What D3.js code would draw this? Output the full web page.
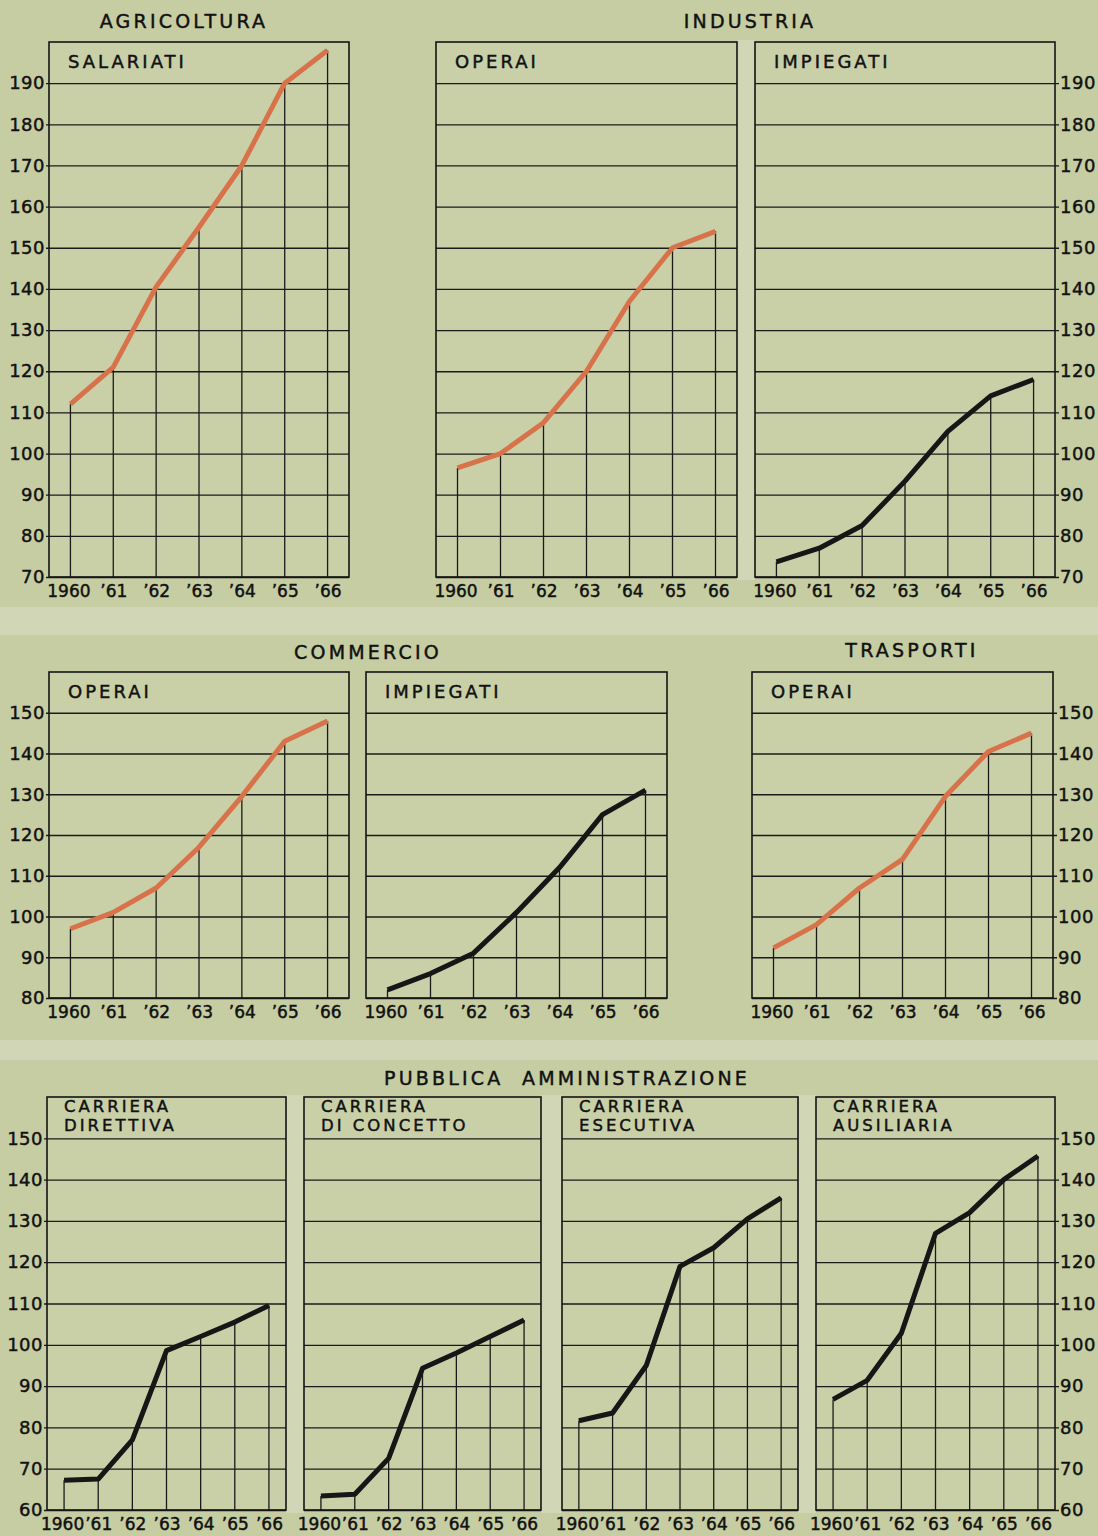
<!DOCTYPE html>
<html>
<head>
<meta charset="utf-8">
<script src="https://cdn.jsdelivr.net/npm/d3@7"></script>
<style>
  body { margin: 0; background: #c6cda2; }
  svg { display: block; font-family: "DejaVu Sans", sans-serif; }
  svg text { stroke: #111; stroke-width: 0.45px; paint-order: stroke; }
</style>
</head>
<body>
<div id="chart"></div>
<script>
// years on the x axis
var years = [1960, 1961, 1962, 1963, 1964, 1965, 1966];
var yearLabels = ["1960", "\u201961", "\u201962", "\u201963", "\u201964", "\u201965", "\u201966"];

// y tick labels for each row
var ticksRow1 = [70, 80, 90, 100, 110, 120, 130, 140, 150, 160, 170, 180, 190];
var ticksRow2 = [80, 90, 100, 110, 120, 130, 140, 150];
var ticksRow3 = [60, 70, 80, 90, 100, 110, 120, 130, 140, 150];

// series (index numbers)
var agricolturaSalariati = [112, 121, 140.5, 155, 170, 190, 198];
var industriaOperai = [96.5, 100, 107.5, 120, 137, 150, 154];
var industriaImpiegati = [73.7, 77, 82.5, 93.3, 105.4, 114, 118];
var commercioOperai = [97, 101, 107, 117, 129.5, 143, 148];
var commercioImpiegati = [82, 86, 91, 101, 112, 125, 131];
var trasportiOperai = [92.3, 98, 107, 114, 129.5, 140.5, 145];
var paDirettiva = [67.2, 67.5, 77, 98.6, 102, 105.5, 109.5];
var paConcetto = [63.4, 63.8, 72.5, 94.3, 98, 102, 106];
var paEsecutiva = [81.6, 83.5, 95, 119, 123.5, 130.5, 135.6];
var paAusiliaria = [86.8, 91.4, 102.8, 127, 132, 140, 145.7];

var ORANGE = "#d8724b", BLACK = "#161616";

var rows = [
  { top: 42, bottom: 577, domain: [70, 200], ticks: ticksRow1, sub: 1 },
  { top: 672, bottom: 998, domain: [80, 160], ticks: ticksRow2, sub: 1 },
  { top: 1097, bottom: 1510, domain: [60, 160], ticks: ticksRow3, sub: 2 }
];

var panels = [
  { row: 0, x0: 49, x1: 349, title: ["SALARIATI"], values: agricolturaSalariati, color: ORANGE, axis: "left" },
  { row: 0, x0: 436, x1: 737, title: ["OPERAI"], values: industriaOperai, color: ORANGE },
  { row: 0, x0: 755, x1: 1055, title: ["IMPIEGATI"], values: industriaImpiegati, color: BLACK, axis: "right" },
  { row: 1, x0: 49, x1: 349, title: ["OPERAI"], values: commercioOperai, color: ORANGE, axis: "left" },
  { row: 1, x0: 366, x1: 667, title: ["IMPIEGATI"], values: commercioImpiegati, color: BLACK },
  { row: 1, x0: 752, x1: 1053, title: ["OPERAI"], values: trasportiOperai, color: ORANGE, axis: "right" },
  { row: 2, x0: 47, x1: 286, title: ["CARRIERA", "DIRETTIVA"], values: paDirettiva, color: BLACK, axis: "left" },
  { row: 2, x0: 304, x1: 541, title: ["CARRIERA", "DI CONCETTO"], values: paConcetto, color: BLACK },
  { row: 2, x0: 562, x1: 798, title: ["CARRIERA", "ESECUTIVA"], values: paEsecutiva, color: BLACK },
  { row: 2, x0: 816, x1: 1055, title: ["CARRIERA", "AUSILIARIA"], values: paAusiliaria, color: BLACK, axis: "right" }
];

var sections = [
  { text: "AGRICOLTURA", x: 184, y: 28 },
  { text: "INDUSTRIA", x: 750, y: 28 },
  { text: "COMMERCIO", x: 368, y: 659 },
  { text: "TRASPORTI", x: 912, y: 657 },
  { text: "PUBBLICA  AMMINISTRAZIONE", x: 567, y: 1085 }
];

var W = 1098, H = 1536;
var svg = d3.select("#chart").append("svg").attr("width", W).attr("height", H);

svg.append("rect").attr("width", W).attr("height", H).attr("fill", "#c6cda2");

// lighter paper strips between the panels
var strips = [[0, 607, W, 28], [0, 1040, W, 20], [737, 40, 18, 540],
  [286, 1095, 18, 418], [541, 1095, 21, 418], [798, 1095, 18, 418]];
svg.selectAll("rect.strip").data(strips).enter().append("rect")
  .attr("class", "strip")
  .attr("x", function (d) { return d[0]; }).attr("y", function (d) { return d[1]; })
  .attr("width", function (d) { return d[2]; }).attr("height", function (d) { return d[3]; })
  .attr("fill", "#d0d6b6");

svg.selectAll("text.section").data(sections).enter().append("text")
  .attr("class", "section")
  .attr("x", function (d) { return d.x; })
  .attr("y", function (d) { return d.y; })
  .attr("text-anchor", "middle")
  .attr("font-size", 19)
  .attr("letter-spacing", 3.2)
  .attr("fill", "#111")
  .style("white-space", "pre")
  .text(function (d) { return d.text; });

panels.forEach(function (p) {
  var r = rows[p.row];
  var w = p.x1 - p.x0, h = r.bottom - r.top;
  var x = d3.scaleLinear().domain([1959.5, 1966.5]).range([0, w]);
  var y = d3.scaleLinear().domain(r.domain).range([h, 0]);

  var g = svg.append("g").attr("transform", "translate(" + p.x0 + "," + r.top + ")");

  g.append("rect").attr("width", w).attr("height", h).attr("fill", "#c9d0a8");

  // horizontal gridlines (and labels on the outer panels)
  var yAxis = (p.axis === "right" ? d3.axisRight(y) : d3.axisLeft(y))
    .tickValues(r.ticks)
    .tickSize(-w)
    .tickPadding(p.axis === "right" ? 5 : 4)
    .tickFormat(function (d) { return p.axis ? d : ""; });
  var ya = g.append("g")
    .attr("transform", p.axis === "right" ? "translate(" + w + ",0)" : null)
    .call(yAxis);
  ya.select(".domain").remove();
  ya.selectAll("line").attr("stroke", "#1a1a1a").attr("stroke-width", 1.3);
  ya.selectAll("text").attr("font-size", 18).attr("fill", "#111")
    .attr("letter-spacing", 0.5).attr("font-family", "DejaVu Sans");
  if (p.axis === "right") {
    ya.selectAll(".tick line").attr("x1", 4);
  } else if (p.axis === "left") {
    ya.selectAll(".tick line").attr("x1", -3);
  }

  // year labels
  var xa = g.append("g").attr("transform", "translate(0," + h + ")")
    .call(d3.axisBottom(x).tickValues(years).tickSize(0).tickPadding(8)
      .tickFormat(function (d, i) { return yearLabels[i]; }));
  xa.select(".domain").remove();
  xa.selectAll("text").attr("font-size", 17).attr("fill", "#111")
    .attr("font-family", "DejaVu Sans")
    .attr("dx", function (d, i) { return i === 0 ? -2 : 0; });

  // drop lines from the axis to each point
  g.selectAll("line.drop").data(p.values).enter().append("line")
    .attr("class", "drop")
    .attr("x1", function (d, i) { return x(years[i]); })
    .attr("x2", function (d, i) { return x(years[i]); })
    .attr("y1", y(r.domain[0]))
    .attr("y2", function (d) { return y(d); })
    .attr("stroke", "#1a1a1a").attr("stroke-width", 1.3);

  // panel frame
  g.append("rect").attr("width", w).attr("height", h)
    .attr("fill", "none").attr("stroke", "#151515").attr("stroke-width", 1.6);

  // subtitle
  p.title.forEach(function (line, i) {
    g.append("text")
      .attr("font-size", r.sub === 2 ? 16.5 : 18)
      .attr("letter-spacing", 3)
      .attr("fill", "#111")
      .attr("x", r.sub === 2 ? 17 : 19)
      .attr("y", r.sub === 2 ? 15 + i * 19 : 26)
      .text(line);
  });

  // series line
  var line = d3.line()
    .x(function (d, i) { return x(years[i]); })
    .y(function (d) { return y(d); });
  g.append("path").datum(p.values)
    .attr("d", line)
    .attr("fill", "none")
    .attr("stroke", p.color)
    .attr("stroke-width", 5)
    .attr("stroke-linejoin", "round");
});
</script>
</body>
</html>
